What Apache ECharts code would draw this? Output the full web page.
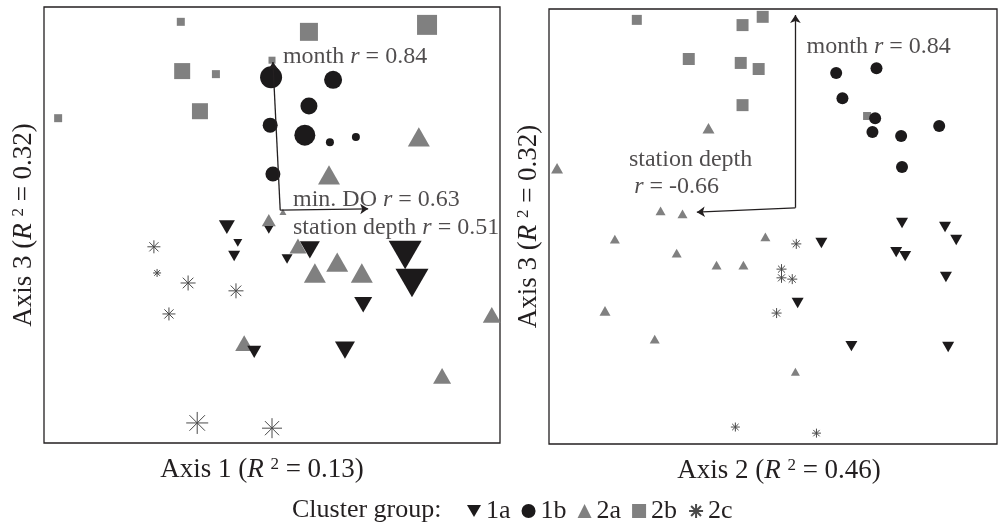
<!DOCTYPE html>
<html>
<head>
<meta charset="utf-8">
<script src="https://cdn.jsdelivr.net/npm/echarts@6/dist/echarts.min.js"></script>
<style>
html,body{margin:0;padding:0;background:#fff;}
#c{width:1000px;height:529px;}
</style>
</head>
<body>
<div id="c"></div>
<script>
// ---------- DATA (ordination scores rescaled to 0-100 per panel; third value = marker size weight) ----------
// Left panel: Axis 1 (x) vs Axis 3 (y)
const L_1a = [[40.1,49.5,16],[42.5,45.9,9],[41.7,42.9,12],[49.3,48.9,9],[53.3,42.2,11],[58.3,44.3,20],[79.2,43.1,33],[80.7,36.7,33],[70.0,31.7,18],[66.0,21.3,20],[46.1,20.9,14]];
const L_1b = [[49.8,83.9,22],[63.4,83.3,18],[58.1,77.3,17],[49.6,72.9,15],[57.2,70.6,21],[62.7,69.0,8],[68.4,70.2,8],[50.2,61.7,15]];
const L_2a = [[82.2,70.2,22],[62.5,61.5,22],[52.4,53.0,7],[49.3,51.1,14],[55.7,45.2,17],[64.3,41.5,22],[59.4,39.0,22],[69.7,39.0,22],[98.2,29.4,18],[43.9,22.9,18],[87.3,15.4,18]];
const L_2b = [[30.0,96.6,8],[58.1,94.3,18],[84.0,95.9,20],[30.3,85.3,16],[37.7,84.6,8],[34.2,76.1,16],[3.1,74.5,8],[50.0,87.8,7]];
const L_2c = [[24.1,45.0,13],[24.8,39.0,8],[31.6,36.7,15],[42.1,34.9,15],[27.4,29.6,13],[33.6,4.6,22],[50.0,3.4,20]];
// Right panel: Axis 2 (x) vs Axis 3 (y)
const R_1a = [[60.8,46.2,12],[78.8,50.8,12],[88.4,49.9,12],[90.9,46.9,12],[77.5,44.1,12],[79.5,43.2,12],[88.6,38.4,12],[55.5,32.4,12],[67.5,22.5,12],[89.1,22.3,12]];
const R_1b = [[64.1,85.3,12],[73.1,86.4,12],[65.5,79.5,12],[72.8,74.9,12],[72.2,71.7,12],[78.6,70.8,12],[87.1,73.1,12],[78.8,63.7,12]];
const R_2a = [[35.6,72.6,12],[1.8,63.4,12],[24.9,53.6,10],[29.8,52.9,10],[14.7,47.1,10],[48.3,47.6,10],[28.5,43.9,10],[37.4,41.1,10],[43.4,41.1,10],[12.5,30.6,11],[23.6,24.1,10],[55.0,16.6,9]];
const R_2b = [[19.6,97.5,10],[43.2,96.3,12],[47.7,98.2,12],[31.2,88.5,12],[42.8,87.6,12],[46.8,86.2,12],[43.2,77.9,12],[71.0,75.4,8]];
const R_2c = [[55.2,46.0,10],[51.9,40.2,10],[51.9,38.2,10],[54.3,37.9,10],[50.8,30.1,10],[59.7,2.5,9],[41.6,3.9,9]];

// Environmental vectors (biplot arrows)
const L_ORIGIN = [51.8,53.4];
const L_TIPS = [[50.2,87.4],[71.1,53.7]];
const R_ORIGIN = [55.0,54.3];
const R_TIPS = [[55.0,98.6],[33.0,53.3]];

// Vector labels: [text, r, x, y, centered]
const L_LABELS = [['month','0.84',52.4,88.5,false],['min. DO','0.63',54.6,55.7,false],['station depth','0.51',54.6,49.3,false]];
const R_LABELS = [['month','0.84',57.5,91.3,false],['station depth','',31.6,65.3,true],['','-0.66',28.5,59.1,true]];

// Axis titles
const AXIS_X = [['Axis 1','0.13'],['Axis 2','0.46']];
const AXIS_Y = ['Axis 3','0.32'];
const GROUPS = ['1a','1b','2a','2b','2c'];
const LEGEND_TITLE = 'Cluster group:';

// ---------- STYLE ----------
const FONT = 'Liberation Serif';
const INK = '#231f20';
const BLACK = '#1c1a1b';
const GRAY = '#808080';
const DOWN_TRI = 'path://M0,0L20,0L10,17.3Z';
const ASTER = 'path://M10,0L10,20M0,10L20,10M2.93,2.93L17.07,17.07M2.93,17.07L17.07,2.93';

const STYLE = {
  '1a': {symbol: DOWN_TRI, keep: true, itemStyle: {color: BLACK}},
  '1b': {symbol: 'circle', keep: false, itemStyle: {color: BLACK}},
  '2a': {symbol: 'triangle', keep: false, tri: true, itemStyle: {color: GRAY}},
  '2b': {symbol: 'rect', keep: false, itemStyle: {color: GRAY}},
  '2c': {symbol: ASTER, keep: true, itemStyle: {color: 'rgba(0,0,0,0)', borderColor: '#4a4a4a', borderWidth: 1}}
};

function axTitle(label, r2){
  return '{n|' + label + ' (}{i|R}{n| }{s|2}{n| = ' + r2 + ')}';
}
function titleStyle(pad){
  return {
    fontFamily: FONT, fontSize: 27, color: INK, padding: pad,
    rich: {
      n: {fontFamily: FONT, fontSize: 27, color: INK},
      i: {fontFamily: FONT, fontSize: 27, color: INK, fontStyle: 'italic'},
      s: {fontFamily: FONT, fontSize: 17, color: INK, verticalAlign: 'top'}
    }
  };
}

function scatter(name, data, idx){
  const st = STYLE[name];
  return {
    type: 'scatter', name: name, xAxisIndex: idx, yAxisIndex: idx,
    data: data,
    symbol: st.symbol,
    symbolKeepAspect: st.keep,
    symbolSize: function(v){ return st.tri ? [v[2], v[2]*0.88] : v[2]; },
    itemStyle: Object.assign({opacity: 1}, st.itemStyle),
    emphasis: {disabled: true},
    z: 3
  };
}
function arrows(origin, tips, idx){
  return {
    type: 'lines', coordinateSystem: 'cartesian2d', xAxisIndex: idx, yAxisIndex: idx,
    data: tips.map(t => ({coords: [origin, t]})),
    symbol: ['none','arrow'], symbolSize: 8,
    lineStyle: {color: INK, width: 1.3, opacity: 1, type: 'solid'},
    silent: true, z: 6
  };
}
function labels(list, idx){
  return {
    type: 'scatter', xAxisIndex: idx, yAxisIndex: idx, symbolSize: 0, silent: true, z: 7,
    data: list.map(l => ({
      value: [l[2], l[3]], txt: l[0], r: l[1],
      label: {position: l[4] ? 'inside' : 'right', distance: 0}
    })),
    label: {
      show: true, fontFamily: FONT, fontSize: 24, color: INK,
      formatter: p => {
        const t = p.data.txt, r = p.data.r;
        let s = t;
        if (r) s += (t ? ' ' : '') + '{i|r} = ' + r;
        return s;
      },
      rich: {i: {fontFamily: FONT, fontSize: 24, color: INK, fontStyle: 'italic'}}
    }
  };
}

const chart = echarts.init(document.getElementById('c'), null, {renderer: 'canvas'});
const gridBase = {show: true, borderColor: INK, borderWidth: 1.3, backgroundColor: 'transparent'};
const axBase = {type: 'value', min: 0, max: 100, axisLine: {show: false}, axisTick: {show: false}, axisLabel: {show: false}, splitLine: {show: false},
  nameLocation: 'middle'};

const option = {
  animation: false,
  backgroundColor: '#fff',
  grid: [
    Object.assign({left: 44, top: 7, width: 456, height: 436}, gridBase),
    Object.assign({left: 549, top: 9, width: 448, height: 435}, gridBase)
  ],
  xAxis: [
    Object.assign({gridIndex: 0, name: axTitle(AXIS_X[0][0], AXIS_X[0][1]), nameGap: 13, nameTextStyle: titleStyle([0, 20, 0, 0])}, axBase),
    Object.assign({gridIndex: 1, name: axTitle(AXIS_X[1][0], AXIS_X[1][1]), nameGap: 13, nameTextStyle: titleStyle([0, 0, 0, 12])}, axBase)
  ],
  yAxis: [
    Object.assign({gridIndex: 0, name: axTitle(AXIS_Y[0], AXIS_Y[1]), nameGap: 7, nameRotate: 90, nameTextStyle: titleStyle(0)}, axBase),
    Object.assign({gridIndex: 1, name: axTitle(AXIS_Y[0], AXIS_Y[1]), nameGap: 7, nameRotate: 90, nameTextStyle: titleStyle(0)}, axBase)
  ],
  legend: {
    left: 462, top: 493, itemWidth: 14, itemHeight: 14, itemGap: 11, selectedMode: false,
    textStyle: {fontFamily: FONT, fontSize: 26, color: INK},
    data: GROUPS.map(g => ({name: g, icon: STYLE[g].symbol}))
  },
  graphic: [{
    type: 'text', left: 292, top: 497,
    style: {text: LEGEND_TITLE, font: '26px "' + FONT + '"', fill: INK}
  }],
  series: [
    scatter('2b', L_2b, 0), scatter('2a', L_2a, 0), scatter('1a', L_1a, 0), scatter('1b', L_1b, 0), scatter('2c', L_2c, 0),
    scatter('2b', R_2b, 1), scatter('2a', R_2a, 1), scatter('1a', R_1a, 1), scatter('1b', R_1b, 1), scatter('2c', R_2c, 1),
    arrows(L_ORIGIN, L_TIPS, 0), arrows(R_ORIGIN, R_TIPS, 1),
    labels(L_LABELS, 0), labels(R_LABELS, 1)
  ]
};
chart.setOption(option);
</script>
</body>
</html>
